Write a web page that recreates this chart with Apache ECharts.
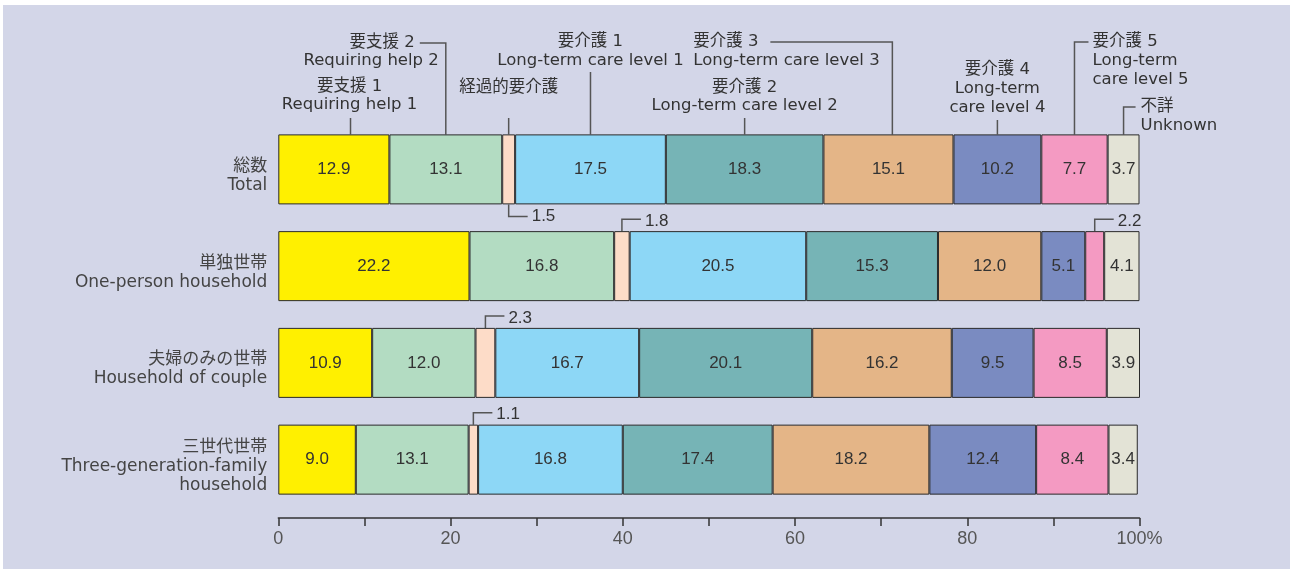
<!DOCTYPE html>
<html>
<head>
<meta charset="utf-8">
<script src="https://cdn.jsdelivr.net/npm/echarts@6/dist/echarts.min.js"></script>
<style>
html, body { margin: 0; padding: 0; background: #fff; }
#bg { position: absolute; left: 3px; top: 5px; width: 1287px; height: 564px; background: #d3d6e8; }
#chart { position: absolute; left: 0; top: 0; width: 1290px; height: 569px; }
</style>
</head>
<body>
<div id="bg"></div>
<div id="chart"></div>
<script>
// 世帯構造別 要介護度の構成割合（%）
const categories = [
    '総数\nTotal',
    '単独世帯\nOne-person household',
    '夫婦のみの世帯\nHousehold of couple',
    '三世代世帯\nThree-generation-family\nhousehold'
];
const levels = ['要支援1', '要支援2', '経過的要介護', '要介護1', '要介護2', '要介護3', '要介護4', '要介護5', '不詳'];
const colors = ['#fff000', '#b3dcc2', '#fddcc8', '#8dd7f6', '#76b4b6', '#e4b587', '#7a8bc1', '#f49ac2', '#e3e3d6'];

const total     = [12.9, 13.1, 1.5, 17.5, 18.3, 15.1, 10.2, 7.7, 3.7];
const onePerson = [22.2, 16.8, 1.8, 20.5, 15.3, 12.0, 5.1, 2.2, 4.1];
const couple    = [10.9, 12.0, 2.3, 16.7, 20.1, 16.2, 9.5, 8.5, 3.9];
const threeGen  = [9.0, 13.1, 1.1, 16.8, 17.4, 18.2, 12.4, 8.4, 3.4];
const rows = [total, onePerson, couple, threeGen];

// 上部の凡例テキスト（総数の各区分を指す）
const noteTexts = [
    ['要支援 1', 'Requiring help 1'],
    ['要支援 2', 'Requiring help 2'],
    ['経過的要介護'],
    ['要介護 1', 'Long-term care level 1'],
    ['要介護 2', 'Long-term care level 2'],
    ['要介護 3', 'Long-term care level 3'],
    ['要介護 4', 'Long-term', 'care level 4'],
    ['要介護 5', 'Long-term', 'care level 5'],
    ['不詳', 'Unknown']
];
// バー外に出す小さい値 [行, 区分]
const smallLabels = [[0, 2], [1, 2], [1, 7], [2, 2], [3, 2]];

const BAR_W = 70;
const textFont = '16.5px "DejaVu Sans", "Noto Sans CJK JP", sans-serif';
const numFont = '17px "Liberation Sans", sans-serif';
const lineColor = '#555';

const chart = echarts.init(document.getElementById('chart'));

const series = levels.map((name, i) => ({
    name: name,
    type: 'bar',
    stack: 'all',
    barWidth: BAR_W,
    data: rows.map(r => r[i]),
    itemStyle: { color: colors[i], borderColor: '#2a2a2a', borderWidth: 1 },
    label: {
        show: true,
        position: 'inside',
        color: '#333',
        fontSize: 17,
        fontFamily: '"Liberation Sans", sans-serif',
        formatter: p => (p.value >= 3 ? p.value.toFixed(1) : '')
    },
    emphasis: { disabled: true }
}));

chart.setOption({
    animation: false,
    backgroundColor: 'transparent',
    grid: { left: 278.3, top: 121, width: 861.2, height: 387 },
    xAxis: {
        type: 'value',
        min: 0,
        max: 100,
        interval: 10,
        offset: 10,
        axisLine: { show: true, lineStyle: { color: '#333', width: 1.5 } },
        axisTick: { show: true, length: 8, lineStyle: { color: '#333', width: 1.5 } },
        splitLine: { show: false },
        axisLabel: {
            margin: 12,
            color: '#555',
            fontSize: 18,
            fontFamily: '"Liberation Sans", sans-serif',
            formatter: v => (v === 100 ? '100%' : (v % 20 === 0 ? String(v) : ''))
        }
    },
    yAxis: {
        type: 'category',
        inverse: true,
        data: categories,
        axisLine: { show: false },
        axisTick: { show: false },
        axisLabel: {
            margin: 11,
            align: 'right',
            // 先頭に空行を入れて少し下へずらす
            formatter: v => '{s| }\n' + v.split('\n').map(l => '{t|' + l + '}').join('\n'),
            rich: {
                s: { fontSize: 2, lineHeight: 13 },
                t: {
                    color: '#444',
                    fontSize: 17,
                    lineHeight: 19,
                    fontFamily: '"DejaVu Sans", "Noto Sans CJK JP", sans-serif',
                    align: 'right'
                }
            }
        }
    },
    series: series
});

// 注記の位置は軸の換算から求める
function px(value, row) {
    return chart.convertToPixel({ gridIndex: 0 }, [value, row]);
}
function segX(row, seg, frac) {
    const r = rows[row];
    let start = 0;
    for (let k = 0; k < seg; k++) start += r[k];
    return px(start + r[seg] * frac, row)[0];
}
function barTop(row) { return px(0, row)[1] - BAR_W / 2; }
function barBottom(row) { return px(0, row)[1] + BAR_W / 2; }

const graphics = [];
function line(points) {
    graphics.push({ type: 'polyline', silent: true, shape: { points: points },
        style: { stroke: lineColor, lineWidth: 1.5, fill: null } });
}
function text(str, x, y, align, font) {
    graphics.push({ type: 'text', silent: true, x: x, y: y,
        style: { text: str, fill: '#333', font: font || textFont, align: align, verticalAlign: 'middle' } });
}

const top0 = barTop(0);
let x;

// 要支援1
x = segX(0, 0, 0.65);
text(noteTexts[0][0], x - 1, 87, 'center');
text(noteTexts[0][1], x - 1, 105, 'center');
line([[x, 118], [x, top0]]);

// 要支援2
x = segX(0, 1, 0.5);
text(noteTexts[1][0], x - 31, 43, 'right');
text(noteTexts[1][1], x - 7, 61, 'right');
line([[x - 26, 43], [x, 43], [x, top0]]);

// 経過的要介護
x = segX(0, 2, 0.5);
text(noteTexts[2][0], x, 88, 'center');
line([[x, 118], [x, top0]]);

// 要介護1
x = segX(0, 3, 0.5);
text(noteTexts[3][0], x, 42, 'center');
text(noteTexts[3][1], x, 61, 'center');
line([[x, 72], [x, top0]]);

// 要介護2
x = segX(0, 4, 0.5);
text(noteTexts[4][0], x, 88, 'center');
text(noteTexts[4][1], x, 106, 'center');
line([[x, 118], [x, top0]]);

// 要介護3
x = segX(0, 5, 0.53);
text(noteTexts[5][0], x - 199, 42, 'left');
text(noteTexts[5][1], x - 199, 61, 'left');
line([[x - 122, 42], [x, 42], [x, top0]]);

// 要介護4
x = segX(0, 6, 0.5);
text(noteTexts[6][0], x, 70, 'center');
text(noteTexts[6][1], x, 89, 'center');
text(noteTexts[6][2], x, 108, 'center');
line([[x, 120], [x, top0]]);

// 要介護5
x = segX(0, 7, 0.5);
line([[x, top0], [x, 42], [x + 14, 42]]);
text(noteTexts[7][0], x + 18, 42, 'left');
text(noteTexts[7][1], x + 18, 61, 'left');
text(noteTexts[7][2], x + 18, 80, 'left');

// 不詳
x = segX(0, 8, 0.5);
line([[x, top0], [x, 107], [x + 12, 107]]);
text(noteTexts[8][0], x + 17, 107, 'left');
text(noteTexts[8][1], x + 17, 126, 'left');

// 小さい値のラベル
smallLabels.forEach(([row, seg]) => {
    const sx = segX(row, seg, 0.5);
    const val = rows[row][seg].toFixed(1);
    if (row === 0) {
        const yb = barBottom(row);
        line([[sx, yb], [sx, yb + 12], [sx + 19, yb + 12]]);
        text(val, sx + 23, yb + 12, 'left', numFont);
    } else {
        const yt = barTop(row);
        line([[sx, yt], [sx, yt - 12], [sx + 19, yt - 12]]);
        text(val, sx + 23, yt - 10, 'left', numFont);
    }
});

chart.setOption({ graphic: graphics });
</script>
</body>
</html>
